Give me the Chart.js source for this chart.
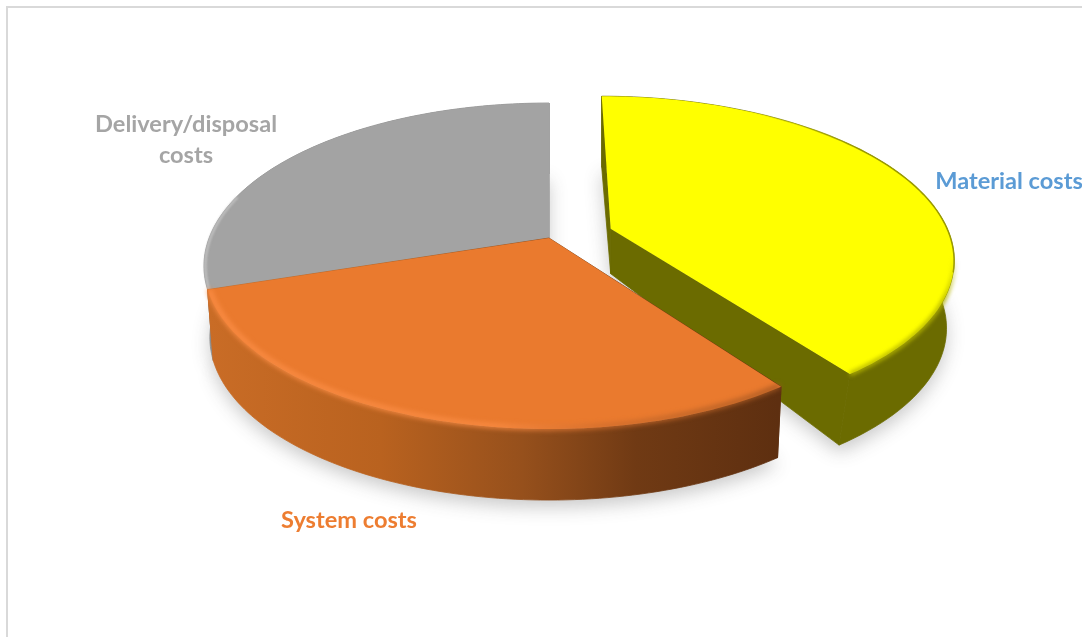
<!DOCTYPE html>
<html>
<head>
<meta charset="utf-8">
<title>Cost shares</title>
<script src="https://cdn.jsdelivr.net/npm/chart.js@4"></script>
<style>
  html, body { margin: 0; padding: 0; background: #fff; }
  canvas { display: block; }
</style>
</head>
<body>
<canvas id="chartCosts" width="1082" height="637"></canvas>
<script>
// Values (clockwise from 12 o'clock)
const categories = ['Material costs', 'System costs', 'Delivery/disposal costs'];
const shares = [40, 30, 30];
const explode = [56, 0, 0];
const sliceColors = ['#ffff00', '#ea7a2e', '#a3a3a3'];

// The tilted view: how a flat pie element maps on to the screen
const view = { dx: 8, dy: -80.5, sx: 1.17, sy: 0.5446, persp: 0.172 };
const wall = { inner: 45, grow: 26, pinch: 6 };
const wallLean = [9, 0, 0];

function sliceShape(arc, index) {
    const R = arc.outerRadius;
    const mid = (arc.startAngle + arc.endAngle) / 2;
    const off = (arc.options.offset || 0) / R;
    const ou = Math.cos(mid) * off, ov = -Math.sin(mid) * off;

    function top(lu, lv) {
        const u = lu + ou, v = lv + ov;
        const d = 1 + view.persp * v;
        return [arc.x + view.dx + R * view.sx * u / d, arc.y + view.dy - R * view.sy * v / d];
    }
    function low(lu, lv) {
        const p = top(lu, lv);
        const lean = wallLean[index] * Math.min(lv, 0);
        return [p[0] - wall.pinch * lu + lean, p[1] + wall.inner + wall.grow * Math.hypot(lu, lv)];
    }
    function rim(fn, scale) {
        const pts = [];
        const n = 90;
        for (let i = 0; i <= n; i++) {
            const t = arc.startAngle + (arc.endAngle - arc.startAngle) * i / n;
            pts.push(fn(Math.cos(t) * scale, -Math.sin(t) * scale));
        }
        return pts;
    }
    return { top, low, rim };
}

function poly(ctx, pts) {
    ctx.beginPath();
    pts.forEach((p, i) => i ? ctx.lineTo(p[0], p[1]) : ctx.moveTo(p[0], p[1]));
    ctx.closePath();
}

function line(ctx, pts) {
    ctx.beginPath();
    pts.forEach((p, i) => i ? ctx.lineTo(p[0], p[1]) : ctx.moveTo(p[0], p[1]));
}

// Wall colours per slice
function wallFill(ctx, index) {
    if (index === 0) return '#6b6b00';
    if (index === 2) return '#8c8c8c';
    const g = ctx.createLinearGradient(210, 0, 778, 0);
    g.addColorStop(0, '#c96c26');
    g.addColorStop(0.3, '#b9621f');
    g.addColorStop(0.55, '#96501c');
    g.addColorStop(0.75, '#703a14');
    g.addColorStop(1, '#5e2f10');
    return g;
}

function drawSlice(ctx, arc, index) {
    const s = sliceShape(arc, index);
    const topRim = s.rim(s.top, 1);
    const lowRim = s.rim(s.low, 1);
    const fill = wallFill(ctx, index);

    // cut faces
    const ends = [arc.startAngle, arc.endAngle].map(t => [Math.cos(t), -Math.sin(t)]);
    ctx.fillStyle = fill;
    ctx.strokeStyle = fill;
    ctx.lineWidth = 0.8;
    ends.forEach(e => {
        poly(ctx, [s.top(0, 0), s.top(e[0], e[1]), s.low(e[0], e[1]), s.low(0, 0)]);
        ctx.fill();
        ctx.stroke();
    });

    // outer wall
    poly(ctx, topRim.concat(lowRim.slice().reverse()));
    ctx.fill();
    ctx.stroke();

    // top face
    poly(ctx, [s.top(0, 0)].concat(topRim));
    ctx.fillStyle = arc.options.backgroundColor;
    ctx.fill();

    // bevel along the rim
    ctx.save();
    ctx.lineJoin = 'round';
    if (index === 0) {
        // dark edge at the back, soft edge at the front
        const back = ctx.createLinearGradient(740, 0, 860, 0);
        back.addColorStop(0, 'rgba(154,154,0,0)');
        back.addColorStop(1, 'rgba(154,154,0,1)');
        const g = ctx.createLinearGradient(0, 255, 0, 300);
        g.addColorStop(0, 'rgba(181,181,0,0)');
        g.addColorStop(1, 'rgba(181,181,0,1)');
        ctx.filter = 'blur(0.6px)';
        ctx.strokeStyle = back;
        ctx.lineWidth = 1.5;
        line(ctx, topRim.filter(p => p[1] < 275 && p[0] > 740));
        ctx.stroke();
        ctx.filter = 'blur(2px)';
        ctx.strokeStyle = g;
        ctx.lineWidth = 4;
        line(ctx, topRim.filter(p => p[1] >= 255));
        ctx.stroke();
    } else if (index === 1) {
        const g = ctx.createLinearGradient(210, 0, 778, 0);
        g.addColorStop(0, 'rgba(250,140,68,1)');
        g.addColorStop(0.5, 'rgba(250,140,68,0.9)');
        g.addColorStop(0.68, 'rgba(210,110,45,0.9)');
        g.addColorStop(1, 'rgba(165,88,34,0.9)');
        ctx.filter = 'blur(2.5px)';
        ctx.strokeStyle = g;
        ctx.lineWidth = 5;
        line(ctx, s.rim(s.top, 0.995));
        ctx.stroke();
    } else {
        ctx.strokeStyle = '#c6c6c6';
        ctx.lineWidth = 2;
        ctx.filter = 'blur(0.8px)';
        line(ctx, s.rim(s.top, 0.996).filter(p => p[0] < 240));
        ctx.stroke();
    }
    ctx.restore();
}

const tiltedPie = {
    id: 'tiltedPie',
    beforeDatasetsDraw(chart) {
        const ctx = chart.ctx;
        const arcs = chart.getDatasetMeta(0).data;

        // soft shadow under the whole thing
        ctx.save();
        ctx.shadowColor = 'rgba(60,60,60,0.28)';
        ctx.shadowBlur = 18;
        ctx.shadowOffsetY = 7;
        ctx.fillStyle = '#ddd';
        arcs.forEach((arc, i) => {
            const s = sliceShape(arc, i);
            poly(ctx, [s.low(0, 0)].concat(s.rim(s.low, 1)));
            ctx.fill();
        });
        ctx.restore();

        // back to front
        [2, 0, 1].forEach(i => drawSlice(ctx, arcs[i], i));
        return false;
    }
};

const labelSpots = [
    { lines: ['Material costs'], x: 1009, y: 189, color: '#5b9bd5' },
    { lines: ['System costs'], x: 349, y: 528, color: '#ed7d31' },
    { lines: ['Delivery/disposal', 'costs'], x: 186, y: 132, color: '#a5a5a5' }
];

const sliceLabels = {
    id: 'sliceLabels',
    afterDraw(chart) {
        const ctx = chart.ctx;
        ctx.save();
        ctx.font = 'bold 23.6px Lato';
        ctx.textAlign = 'center';
        ctx.textBaseline = 'alphabetic';
        labelSpots.forEach(l => {
            ctx.fillStyle = l.color;
            l.lines.forEach((t, i) => ctx.fillText(t, l.x, l.y + i * 31));
        });
        // frame: only the top and left edges show in the crop
        ctx.strokeStyle = '#d9d9d9';
        ctx.lineWidth = 2;
        ctx.beginPath();
        ctx.moveTo(7, 637);
        ctx.lineTo(7, 7);
        ctx.lineTo(1082, 7);
        ctx.stroke();
        ctx.restore();
    }
};

const chartCosts = new Chart(document.getElementById('chartCosts').getContext('2d'), {
    type: 'pie',
    data: {
        labels: categories,
        datasets: [{
            data: shares,
            backgroundColor: sliceColors,
            offset: explode,
            borderWidth: 0
        }]
    },
    options: {
        responsive: false,
        animation: false,
        plugins: {
            legend: { display: false },
            tooltip: { enabled: false }
        }
    },
    plugins: [tiltedPie, sliceLabels]
});
</script>
</body>
</html>
